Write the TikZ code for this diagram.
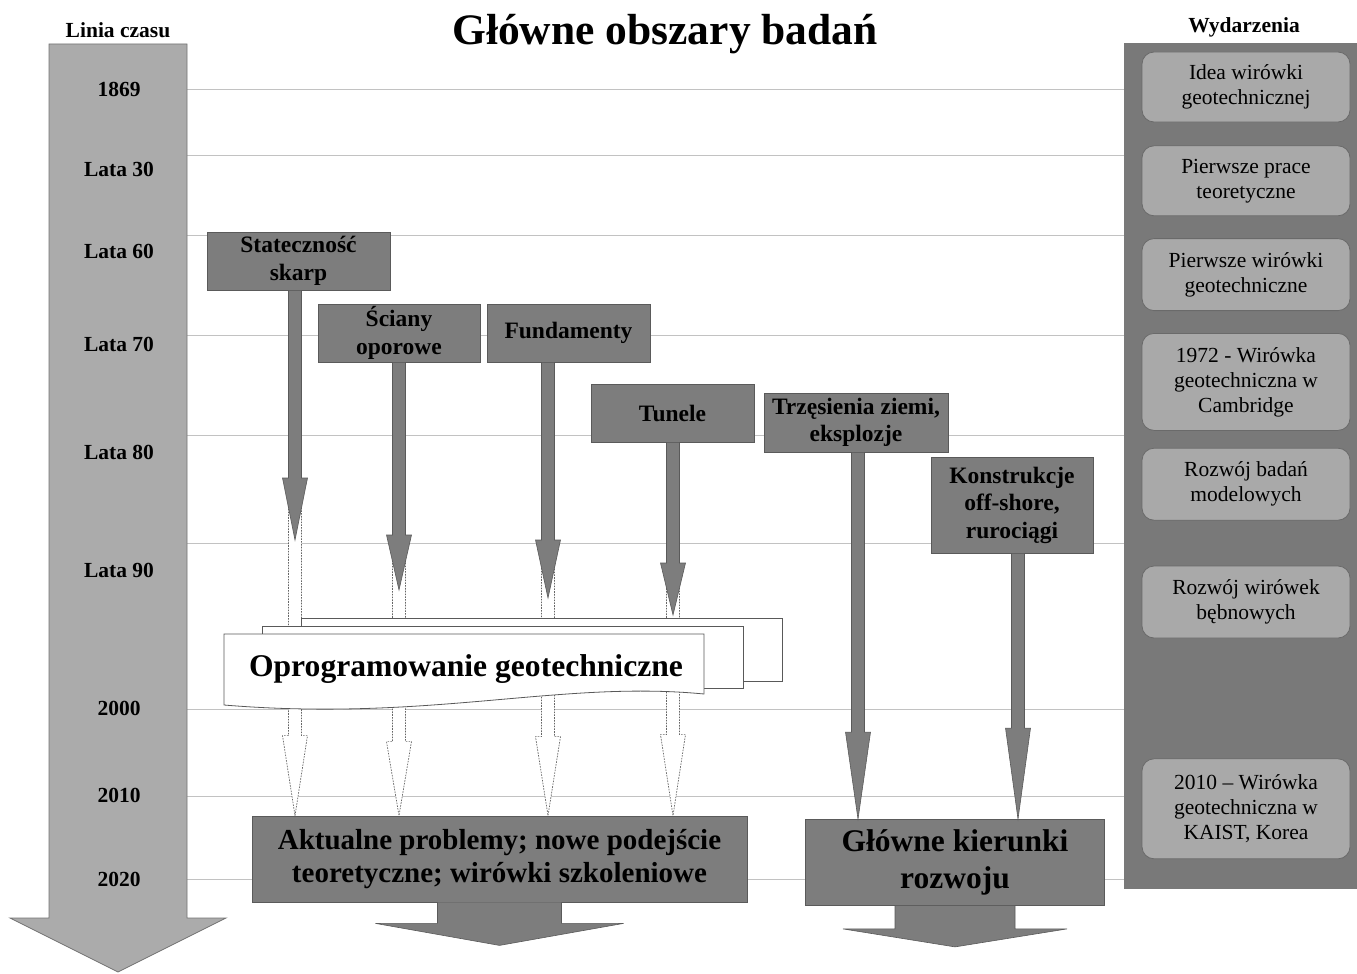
\documentclass[tikz,border=0pt]{standalone}
\usepackage{fontspec}
\setmainfont{Liberation Serif}
\usetikzlibrary{positioning,calc}
\definecolor{boxgray}{HTML}{7D7D7D}
\definecolor{boxline}{HTML}{5A5A5A}
\definecolor{panelgray}{HTML}{797979}
\definecolor{evgray}{HTML}{A9A9A9}
\definecolor{evline}{HTML}{6A6A6A}
\definecolor{timegray}{HTML}{ABABAB}
\definecolor{gridgray}{HTML}{C2C2C2}

% block arrow: [style] {top} {tip} {head length}
\newcommand{\blockarrow}[4][]{%
  \coordinate (ba-top) at (#2);
  \coordinate (ba-tip) at (#3);
  \path[#1] ($(ba-top)+(-6.5,0)$) -- ($(ba-tip)+(-6.5,-#4)$) -- ($(ba-tip)+(-12.5,-#4)$)
    -- (ba-tip) -- ($(ba-tip)+(12.5,-#4)$) -- ($(ba-tip)+(6.5,-#4)$) -- ($(ba-top)+(6.5,0)$) -- cycle;}

\begin{document}
\begin{tikzpicture}[x=1pt,y=-1pt,
    box/.style={draw=boxline,fill=boxgray,line width=0.8pt,inner sep=0pt,align=center,
        font=\fontsize{23.5}{27.5}\selectfont\bfseries},
    event/.style={draw=evline,fill=evgray,line width=0.8pt,rounded corners=12pt,
        minimum width=208pt,inner sep=0pt,align=center,font=\fontsize{21.5}{25}\selectfont},
    year/.style={font=\fontsize{21.5}{25}\selectfont\bfseries},
    head/.style={font=\fontsize{21.5}{25}\selectfont\bfseries},
    grid/.style={draw=gridgray,line width=1pt},
    darkarrow/.style={fill=boxgray,draw=boxline,line width=0.6pt},
    softarrow/.style={fill=white,draw=gray!80!black,dash pattern=on 1.6pt off 1.2pt,line width=0.7pt},
    softdoc/.style={fill=white,draw=gray!70!black,line width=0.8pt}]

  \useasboundingbox (0,0) rectangle (1357,974);

  \foreach \y in {89,155,235,335,435,543,709,796,879}
    \draw[grid] (187,\y) -- (1124,\y);

  % time line
  \draw[fill=timegray,draw=gray!90!black,line width=0.8pt] (49,44) -- (187,44) -- (187,918)
    -- (226,918) -- (118,972) -- (10,918) -- (49,918) -- cycle;
  \node[head] (lc) at (118,30) {Linia czasu};
  \foreach \y/\t in {89/1869,169/Lata 30,251/Lata 60,344/Lata 70,452/Lata 80,
                     570/Lata 90,708/2000,795/2010,879/2020}
    \node[year] (y\y) at (119,\y) {\t};

  \node[font=\fontsize{43.5}{48}\selectfont\bfseries] (title) at (665,34) {Główne obszary badań};

  % events
  \fill[panelgray] (1124,43) rectangle (1357,889);
  \node[head] (wyd) at (1244,27) {Wydarzenia};
  \node[event,minimum height=70pt] (e1) at (1246,87) {Idea wirówki\\geotechnicznej};
  \node[event,minimum height=70pt] (e2) [below=23pt of e1] {Pierwsze prace\\teoretyczne};
  \node[event,minimum height=72pt] (e3) [below=22pt of e2] {Pierwsze wirówki\\geotechniczne};
  \node[event,minimum height=97pt] (e4) [below=22pt of e3] {1972 - Wirówka\\geotechniczna w\\Cambridge};
  \node[event,minimum height=72pt] (e5) [below=17pt of e4] {Rozwój badań\\modelowych};
  \node[event,minimum height=72pt] (e6) [below=45pt of e5] {Rozwój wirówek\\bębnowych};
  \node[event,minimum height=100pt] (e7) [below=120pt of e6] {2010 -- Wirówka\\geotechniczna w\\KAIST, Korea};

  % research areas
  \node[box,minimum width=183pt,minimum height=58pt] (skarp) at (298.5,261) {Stateczność\\skarp};
  \node[box,minimum width=162pt,minimum height=58pt] (sciany) at (399,333) {Ściany\\oporowe};
  \node[box,minimum width=163pt,minimum height=58pt] (fund) at (568.5,333) {Fundamenty};
  \node[box,minimum width=163pt,minimum height=58pt] (tunele) at (672.5,413) {Tunele};
  \node[box,minimum width=184pt,minimum height=59pt] (trzes) at (856,422.5) {Trzęsienia ziemi,\\eksplozje};
  \node[box,minimum width=162pt,minimum height=96pt] (konstr) at (1012,505) {Konstrukcje\\off-shore,\\rurociągi};
  \node[box,minimum width=495pt,minimum height=86pt,font=\fontsize{29}{33}\selectfont\bfseries]
    (akt) at (499.5,859) {Aktualne problemy; nowe podejście\\teoretyczne; wirówki szkoleniowe};
  \node[box,minimum width=299pt,minimum height=86pt,font=\fontsize{31.5}{37}\selectfont\bfseries]
    (kier) at (955,862.5) {Główne kierunki\\rozwoju};

  \coordinate (t1) at (295,540);
  \coordinate (t2) at (399,590);
  \coordinate (t3) at (548,598);
  \coordinate (t4) at (673,615);
  \coordinate (t5) at (858,0);
  \coordinate (t6) at (1018,0);

  \blockarrow[softarrow]{$(t1)+(0,-62)$}{akt.north -| t1}{80}
  \blockarrow[softarrow]{$(t2)+(0,-55)$}{akt.north -| t2}{74}
  \blockarrow[softarrow]{$(t3)+(0,-58)$}{akt.north -| t3}{79}
  \blockarrow[softarrow]{$(t4)+(0,-52)$}{akt.north -| t4}{81}

  % software
  \draw[softdoc] (301,618) rectangle (782,681);
  \draw[softdoc] (262,626) rectangle (743,688);
  \draw[softdoc] (224,634) -- (704,634) -- (704,694) .. controls (560,680) and (430,722) .. (224,705) -- cycle;
  \node[font=\fontsize{31.6}{36}\selectfont\bfseries] (soft) at (466,669) {Oprogramowanie geotechniczne};

  \blockarrow[darkarrow]{skarp.south -| t1}{t1}{62}
  \blockarrow[darkarrow]{sciany.south -| t2}{t2}{55}
  \blockarrow[darkarrow]{fund.south -| t3}{t3}{58}
  \blockarrow[darkarrow]{tunele.south -| t4}{t4}{52}
  \blockarrow[darkarrow]{trzes.south -| t5}{kier.north -| t5}{87}
  \blockarrow[darkarrow]{konstr.south -| t6}{kier.north -| t6}{91}

  % outgoing arrows
  \filldraw[darkarrow] ($(akt.south)+(-62,0)$) -- ++(0,21) -- ++(-62,0) -- ($(akt.south)+(0,43)$)
    -- ($(akt.south)+(124,21)$) -- ++(-62,0) -- ($(akt.south)+(62,0)$);
  \filldraw[darkarrow] ($(kier.south)+(-60,0)$) -- ++(0,23) -- ++(-52,0) -- ($(kier.south)+(0,41)$)
    -- ($(kier.south)+(112,23)$) -- ++(-52,0) -- ($(kier.south)+(60,0)$);

\end{tikzpicture}
\end{document}
